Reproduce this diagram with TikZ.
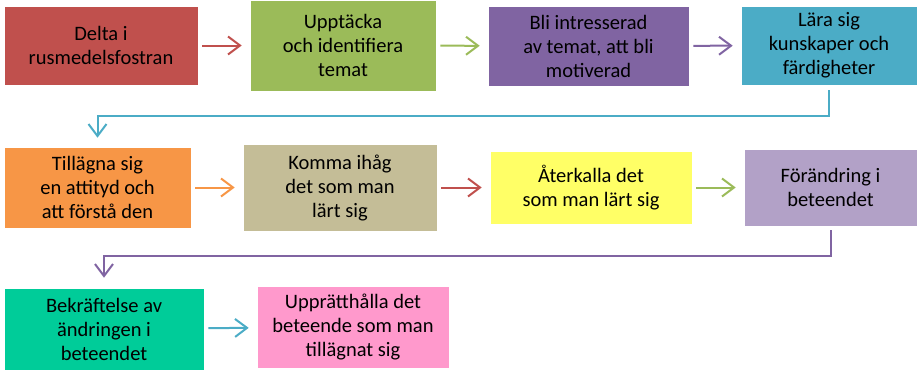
\documentclass[tikz,border=0pt]{standalone}
\usepackage{fontspec}
\setmainfont{Carlito}
\usetikzlibrary{arrows.meta}
\definecolor{cRed}{HTML}{C0504D}
\definecolor{cGreen}{HTML}{9BBB59}
\definecolor{cPurple}{HTML}{8064A2}
\definecolor{cTeal}{HTML}{4BACC6}
\definecolor{cOrange}{HTML}{F79646}
\definecolor{cKhaki}{HTML}{C4BD97}
\definecolor{cYellow}{HTML}{FFFF66}
\definecolor{cLav}{HTML}{B2A1C7}
\definecolor{cMint}{HTML}{00CC99}
\definecolor{cPink}{HTML}{FF99CC}
\begin{document}
\begin{tikzpicture}[x=1pt,y=-1pt,
  box/.style={draw=white,line width=0.6pt,inner sep=2pt,align=center,text=black,
    font=\fontsize{20.5}{24}\selectfont},
  flow/.style={line width=2pt,-{Straight Barb[length=12pt,width=18pt,line width=2pt]},
    shorten <=4pt,shorten >=8pt}]
\useasboundingbox (0,0) rectangle (920,370);
\node[box,fill=cRed,minimum width=194pt,minimum height=79pt] (b1) at (101,45.5) {Delta i\\rusmedelsfostran};
\node[box,fill=cGreen,minimum width=186pt,minimum height=91pt] (b2) at (343,45.5) {Uppt\"acka\\och identifiera\\temat};
\node[box,fill=cPurple,minimum width=201pt,minimum height=80pt] (b3) at (588.5,46) {Bli intresserad\\av temat, att bli\\motiverad};
\node[box,fill=cTeal,minimum width=176pt,minimum height=79pt] (b4) at (829,45.5) {L\"ara sig\\kunskaper och\\f\"ardigheter};
\node[box,fill=cOrange,minimum width=187pt,minimum height=81pt] (b5) at (97.5,187.5) {Till\"agna sig\\en attityd och\\att f\"orst\aa{} den};
\node[box,fill=cKhaki,minimum width=194pt,minimum height=87pt] (b6) at (340,187.5) {Komma ih\aa g\\det som man\\l\"art sig};
\node[box,fill=cYellow,minimum width=202pt,minimum height=73pt] (b7) at (591,187.5) {\AA terkalla det\\som man l\"art sig};
\node[box,fill=cLav,minimum width=173pt,minimum height=77pt] (b8) at (830.5,187.5) {F\"or\"andring i\\beteendet};
\node[box,fill=cMint,minimum width=200pt,minimum height=82pt] (b9) at (104,329) {Bekr\"aftelse av\\\"andringen i\\beteendet};
\node[box,fill=cPink,minimum width=192pt,minimum height=82pt] (b10) at (353,327) {Uppr\"atth\aa lla det\\beteende som man\\till\"agnat sig};
\draw[flow,draw=cRed] (b1) -- (b2);
\draw[flow,draw=cGreen] (b2) -- (b3);
\draw[flow,draw=cPurple] (b3) -- (b4);
\draw[flow,draw=cTeal,shorten <=5pt,shorten >=9pt] (b4.south) -- ++(0,31) -| (b5.north);
\draw[flow,draw=cOrange] (b5) -- (b6);
\draw[flow,draw=cRed] (b6) -- (b7);
\draw[flow,draw=cGreen] (b7) -- (b8);
\draw[flow,draw=cPurple,shorten <=4pt,shorten >=10pt] (b8.south) -- ++(0,30) -| (b9.north);
\draw[flow,draw=cTeal] (b9) -- (b10);
\end{tikzpicture}
\end{document}
